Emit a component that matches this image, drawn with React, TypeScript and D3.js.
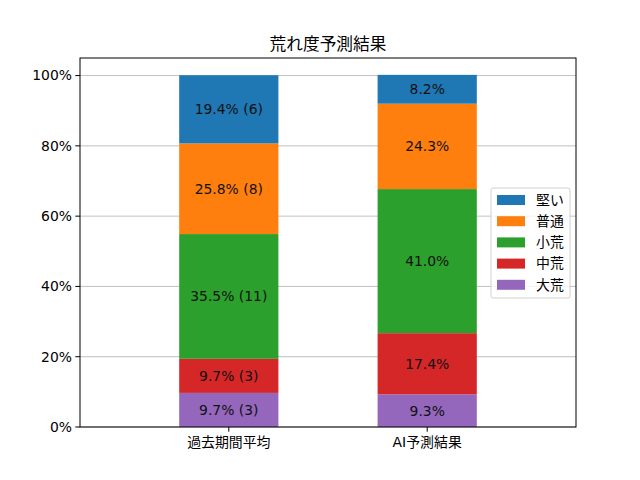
import { FC } from 'react';
import * as d3 from 'd3';

const categories = ['過去期間平均', 'AI予測結果'];
const levels = ['大荒', '中荒', '小荒', '普通', '堅い'];
const colors = ['#9467bd', '#d62728', '#2ca02c', '#ff7f0e', '#1f77b4'];
// percentages per level, one array per category (bottom to top)
const pastPct = [9.7, 9.7, 35.5, 25.8, 19.4];
const pastCount = [3, 3, 11, 8, 6];
const aiPct = [9.3, 17.4, 41.0, 24.3, 8.2];
const yTicks = [0, 20, 40, 60, 80, 100];

const WIDTH = 640, HEIGHT = 480;
const MARGIN = { top: 58, right: 64, bottom: 53, left: 80 };
const FONT = '"DejaVu Sans", "Noto Sans CJK JP", sans-serif';
const FS = 13.9;

const App: FC = () => {
  const boundsWidth = WIDTH - MARGIN.left - MARGIN.right;
  const boundsHeight = HEIGHT - MARGIN.top - MARGIN.bottom;

  const xScale = d3.scaleLinear().domain([-0.75, 1.75]).range([0, boundsWidth]);
  const yScale = d3.scaleLinear().domain([0, 105]).range([boundsHeight, 0]);
  const barW = xScale(0.5) - xScale(0);

  const series = [
    { pct: pastPct, count: pastCount as number[] | null },
    { pct: aiPct, count: null },
  ];

  return (
    <svg width={WIDTH} height={HEIGHT} style={{ position: 'absolute', left: 0, top: 0, background: '#fff' }} fontFamily={FONT}>
      <text x={MARGIN.left + boundsWidth / 2} y={MARGIN.top - 8} textAnchor="middle" fontSize={16.7} fill="#000">荒れ度予測結果</text>
      <g transform={`translate(${MARGIN.left},${MARGIN.top})`}>
        {yTicks.map((t) => (
          <line key={t} x1={0} x2={boundsWidth} y1={yScale(t)} y2={yScale(t)} stroke="#b0b0b0" strokeWidth={0.8} />
        ))}
        {series.map((s, i) => {
          const stacks = d3.cumsum(s.pct);
          return (
            <g key={categories[i]}>
              {s.pct.map((v, j) => {
                const y0 = j === 0 ? 0 : stacks[j - 1];
                const y1 = stacks[j];
                const label = s.count ? `${v.toFixed(1)}% (${s.count[j]})` : `${v.toFixed(1)}%`;
                return (
                  <g key={levels[j]}>
                    <rect x={xScale(i) - barW / 2} width={barW} y={yScale(y1)} height={yScale(y0) - yScale(y1)} fill={colors[j]} />
                    <text x={xScale(i)} y={yScale((y0 + y1) / 2)} dy="0.35em" textAnchor="middle" fontSize={FS} fill="#111">{label}</text>
                  </g>
                );
              })}
            </g>
          );
        })}
        <rect x={0} y={0} width={boundsWidth} height={boundsHeight} fill="none" stroke="#000" strokeWidth={1} />
        {yTicks.map((t) => (
          <g key={t} transform={`translate(0,${yScale(t)})`}>
            <line x1={-4.7} x2={0} stroke="#000" />
            <text x={-8} dy="0.35em" textAnchor="end" fontSize={FS} fill="#000">{t}%</text>
          </g>
        ))}
        {categories.map((c, i) => (
          <g key={c} transform={`translate(${xScale(i)},${boundsHeight})`}>
            <line y1={0} y2={4.7} stroke="#000" />
            <text y={20} textAnchor="middle" fontSize={FS} fill="#000">{c}</text>
          </g>
        ))}
        <g transform={`translate(${boundsWidth - 85},${130})`}>
          <rect x={0} y={0} width={79} height={110} rx={2} fill="#fff" fillOpacity={0.8} stroke="#d0d0d0" />
          {levels.slice().reverse().map((l, k) => {
            const j = levels.length - 1 - k;
            return (
              <g key={l} transform={`translate(0,${12 + k * 21.2})`}>
                <rect x={6} y={-5} width={28} height={10} fill={colors[j]} />
                <text x={45} dy="0.35em" fontSize={FS} fill="#000">{l}</text>
              </g>
            );
          })}
        </g>
      </g>
    </svg>
  );
};

export default App;
